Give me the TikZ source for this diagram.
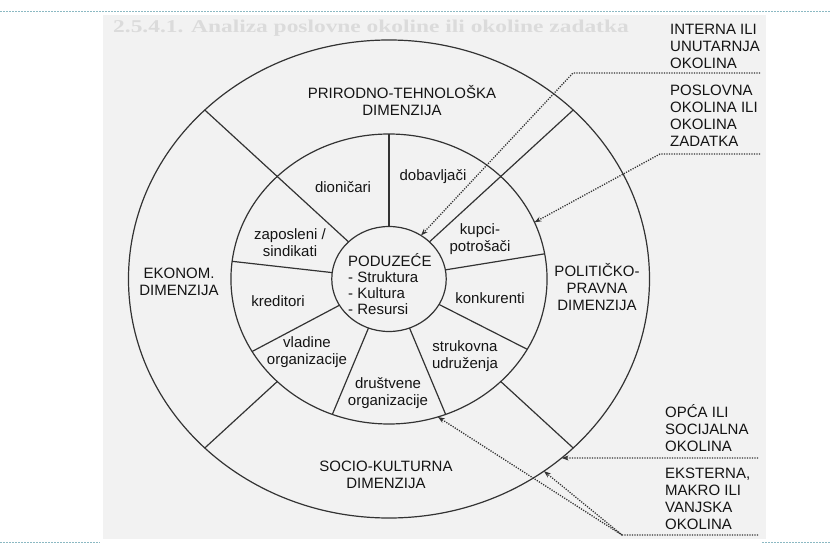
\documentclass[tikz,border=0pt]{standalone}
\usepackage{fontspec}
\usepackage{graphicx}
\setmainfont{Liberation Sans}
\newfontfamily\headfont{Liberation Serif}
\usetikzlibrary{arrows.meta}
\begin{document}
\begin{tikzpicture}[x=1pt,y=-1pt,
  ring/.style={line width=1.2pt, draw=black!80},
  lbl/.style={font=\fontsize{15}{17}\selectfont, align=center, inner sep=0pt, text=black!92},
  side/.style={lbl, align=left, anchor=west},
  dotln/.style={draw=black!80, line width=1.3pt, dash pattern=on 1.2pt off 1.3pt},
  tipend/.style={-{Stealth[length=7pt,width=5pt]}},
  guide/.style={draw={rgb,255:red,140;green,185;blue,195}, line width=0.8pt, dash pattern=on 1.5pt off 1.5pt},
  heading/.style={font=\headfont\bfseries\fontsize{18}{20}\selectfont, text=black!14, inner sep=0pt, anchor=base west}]
\useasboundingbox (0,0) rectangle (831,551);
% scanned page background
\fill[black!5] (103,15) rectangle (766,539);
\draw[guide] (0,11) -- (831,11);
\draw[guide] (0,542) -- (100,542);
\draw[guide] (762,542) -- (831,542);
\node[heading] (head) at (113,33) {\scalebox{1.3}[1]{2.5.4.1. Analiza poslovne okoline ili okoline zadatka}};

% concentric rings
\begin{scope}[shift={(389,279)}, xscale=1.09, yscale=-1]
  \draw[ring] (0,0) circle[radius=239];
  \draw[ring] (0,0) circle[radius=145];
  \draw[ring] (0,0) circle[radius=52.5];
  \foreach \a in {45,135} \draw[ring] (\a:52.5) -- (\a:239);
  \foreach \a in {225,315} \draw[ring] (\a:145) -- (\a:239);
  \foreach \a in {10,90,173,210,249,291,331} \draw[ring] (\a:52.5) -- (\a:145);
  \coordinate (tipIn) at (56:52.5);
  \coordinate (tipPo) at (23:145);
  \coordinate (tipOp) at (-48.5:239);
  \coordinate (tipEo) at (-53.5:239);
  \coordinate (tipEm) at (-72:145);
\end{scope}

% outer ring labels
\node[lbl] (nat) at (402,101) {PRIRODNO-TEHNOLOŠKA\\DIMENZIJA};
\node[lbl] (eko) at (179,282) {EKONOM.\\DIMENZIJA};
\node[lbl] (pol) at (597,287) {POLITIČKO-\\PRAVNA\\DIMENZIJA};
\node[lbl] (soc) at (386,475) {SOCIO-KULTURNA\\DIMENZIJA};

% middle ring labels
\node[lbl] (dion) at (343,187) {dioničari};
\node[lbl] (dob) at (433,177) {dobavljači};
\node[lbl] (zap) at (290,243) {zaposleni /\\sindikati};
\node[lbl] (kup) at (480,239) {kupci-\\potrošači};
\node[lbl] (kon) at (490,298) {konkurenti};
\node[lbl] (kred) at (278,301) {kreditori};
\node[lbl] (struk) at (465,356) {strukovna\\udruženja};
\node[lbl] (vlad) at (307,352) {vladine\\organizacije};
\node[lbl] (drus) at (388,393) {društvene\\organizacije};

% centre
\node[lbl, align=left, anchor=west, font=\fontsize{15}{16.2}\selectfont] (firm) at (348,284) {PODUZEĆE\\- Struktura\\- Kultura\\- Resursi};

% side labels
\node[side] (intern) at (670,46) {INTERNA ILI\\UNUTARNJA\\OKOLINA};
\node[side] (posl) at (670,116) {POSLOVNA\\OKOLINA ILI\\OKOLINA\\ZADATKA};
\node[side] (opca) at (665,428) {OPĆA ILI\\SOCIJALNA\\OKOLINA};
\node[side] (ekst) at (665,499) {EKSTERNA,\\MAKRO ILI\\VANJSKA\\OKOLINA};

% dotted leaders
\coordinate (inA) at (760,73);
\coordinate (inB) at (573,73);
\coordinate (poA) at (760,154);
\coordinate (poB) at (660,154);
\coordinate (opA) at (758,458);
\coordinate (exA) at (758,535);
\coordinate (exB) at (622,535);
\draw[dotln, tipend] (inA) -- (inB) -- (tipIn);
\draw[dotln, tipend] (poA) -- (poB) -- (tipPo);
\draw[dotln, tipend] (opA) -- (tipOp);
\draw[dotln, tipend] (exA) -- (exB) -- (tipEo);
\draw[dotln, tipend] (exB) -- (tipEm);
\end{tikzpicture}
\end{document}
